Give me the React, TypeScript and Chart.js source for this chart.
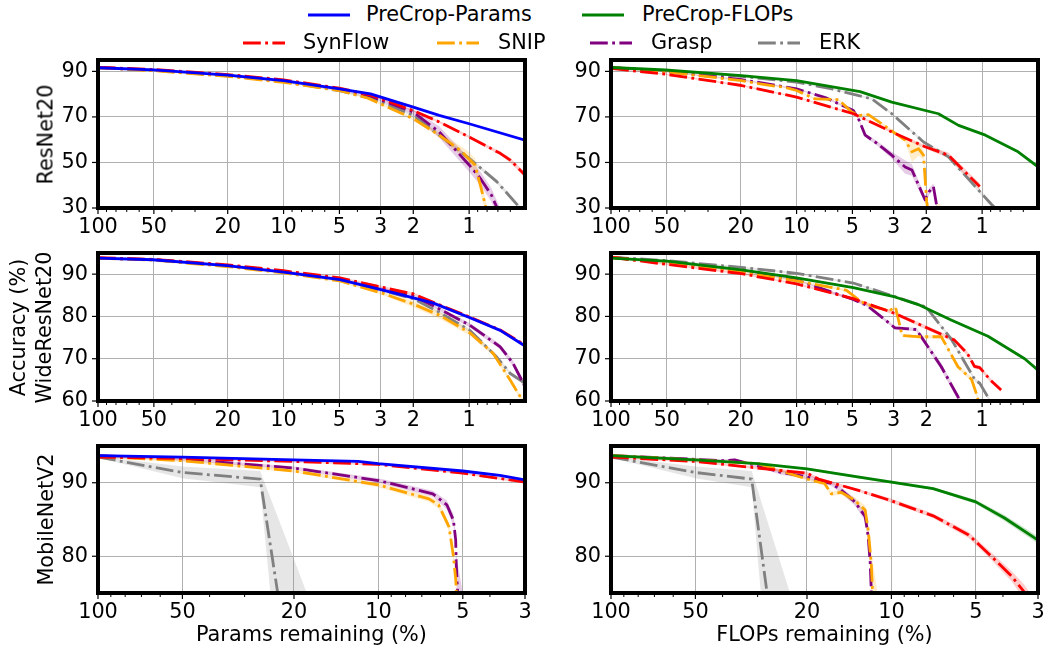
import React, { useEffect, useRef } from 'react';
import { Chart, registerables } from 'chart.js';

Chart.register(...registerables);

const FONT = "'DejaVu Sans', sans-serif";
const FS = 20.8;

// Each point: [remaining %, accuracy %, band half-width]
type P = [number, number, number];

// ---------- ResNet20 : Params remaining ----------
const r20ParamsPreCrop: P[] = [[100, 91.6, 0.2], [50, 90.7, 0.2], [20, 88.4, 0.2], [10, 85.9, 0.2], [5, 82.3, 0.2], [3.4, 80.1, 0.2], [2, 74.3, 0.3], [1.45, 70.7, 0.3], [1, 67, 0.3], [0.5, 59.8, 0.4]];
const r20ParamsSynFlow: P[] = [[100, 91.8, 0.3], [50, 90.8, 0.3], [20, 88.6, 0.3], [10, 86.3, 0.3], [5, 82.6, 0.3], [3.4, 79.7, 0.3], [2, 72.8, 0.4], [1.45, 67.8, 0.5], [1, 61.2, 0.6], [0.68, 54, 0.8], [0.6, 51, 1], [0.5, 44.5, 1.2]];
const r20ParamsSnip: P[] = [[100, 91.6, 0.3], [50, 90.3, 0.3], [20, 87.8, 0.3], [10, 85.2, 0.3], [5, 81.6, 0.3], [3.5, 78.2, 0.4], [2, 69.2, 0.6], [1.45, 62, 1], [1.1, 55, 2], [1.01, 51.8, 3], [0.93, 48.9, 3], [0.87, 40.1, 3], [0.8, 28, 3]];
const r20ParamsGrasp: P[] = [[100, 91.7, 0.3], [50, 90.5, 0.3], [20, 88.2, 0.3], [10, 85.6, 0.3], [5, 81.9, 0.3], [3.4, 79.2, 0.4], [2, 72.1, 1], [1.45, 63.4, 2.5], [1, 48.9, 3], [0.87, 43, 3], [0.76, 35.8, 3], [0.68, 27, 3]];
const r20ParamsErk: P[] = [[100, 91.6, 0.3], [50, 90.5, 0.3], [20, 88, 0.3], [10, 85.5, 0.3], [5, 81.5, 0.3], [3.3, 78, 0.4], [2, 70.7, 0.5], [1.45, 62, 0.6], [1, 51.8, 0.8], [0.71, 41.6, 0.8], [0.55, 31.4, 1], [0.5, 27.5, 1]];

// ---------- ResNet20 : FLOPs remaining ----------
const r20FlopsPreCrop: P[] = [[100, 91.7, 0.2], [51, 90.6, 0.2], [19.8, 88.1, 0.2], [10, 85.9, 0.2], [4.55, 81.1, 0.2], [3.07, 76.5, 0.3], [1.72, 71.4, 0.3], [1.34, 66.3, 0.3], [0.96, 62, 0.3], [0.64, 54.7, 0.4], [0.5, 48.1, 0.4]];
const r20FlopsSynFlow: P[] = [[100, 91.3, 0.3], [51.2, 88.8, 0.3], [19.8, 83.8, 0.3], [10, 78.7, 0.3], [4.94, 71.4, 0.4], [2.94, 62.7, 0.5], [2.03, 56.9, 0.8], [1.52, 53.2, 1.2], [1.03, 39.4, 1.5]];
const r20FlopsSnip: P[] = [[100, 91.7, 0.3], [51, 89.9, 0.3], [19.8, 85.9, 0.3], [13.1, 83.5, 0.3], [11.5, 83, 0.3], [10, 81.6, 0.3], [7.94, 77.9, 0.4], [5.95, 77.6, 0.4], [5.04, 72.1, 0.5], [4.6, 70.7, 0.5], [4.1, 71, 0.5], [2.6, 59.8, 0.8], [2.39, 54.7, 4.5], [2.2, 56, 3], [2.07, 53.2, 2], [1.99, 32.9, 2], [1.95, 28, 1], [1.7, 31, 1], [1.6, 27, 1]];
const r20FlopsGrasp: P[] = [[100, 91.7, 0.3], [51, 89.9, 0.3], [19.8, 86.4, 0.3], [10, 82.3, 0.3], [7, 78.5, 0.4], [4.94, 72.8, 0.5], [4.6, 68.5, 0.5], [4.27, 62, 0.8], [3.67, 58.3, 1], [3.07, 53.2, 1.5], [2.6, 48, 3], [2.39, 46.7, 2.5], [2.03, 33.6, 1.5], [1.93, 37.2, 1.5], [1.83, 39.4, 1.5], [1.74, 29, 1]];
const r20FlopsErk: P[] = [[100, 91.7, 0.3], [51, 90.3, 0.3], [19.8, 87.8, 0.3], [10, 85.3, 0.3], [6.46, 82.3, 0.3], [3.93, 77.9, 0.4], [3.07, 71.4, 0.5], [2.07, 59, 0.6], [1.52, 52.5, 0.8], [0.887, 31.4, 1], [0.8, 28, 1]];

// ---------- WideResNet20 : Params remaining ----------
const wrnParamsPreCrop: P[] = [[100, 93.8, 0.15], [50.7, 93.4, 0.15], [20.2, 92, 0.15], [10, 90.5, 0.15], [4.97, 88.7, 0.2], [2.95, 86.3, 0.2], [1.57, 83.2, 0.2], [0.99, 79.7, 0.3], [0.68, 76.7, 0.3], [0.5, 73, 0.3]];
const wrnParamsSynFlow: P[] = [[100, 93.9, 0.2], [50, 93.5, 0.2], [20, 92.2, 0.2], [10, 90.8, 0.2], [4.97, 89.1, 0.3], [2.95, 86.9, 0.3], [2.02, 85.4, 0.3], [1.57, 83.4, 0.3], [1, 79.9, 0.3], [0.68, 76.8, 0.3], [0.5, 73.2, 0.3]];
const wrnParamsSnip: P[] = [[100, 93.8, 0.2], [50, 93.3, 0.2], [20.2, 91.8, 0.2], [10, 90.3, 0.2], [4.97, 88.4, 0.3], [2.95, 85.5, 0.4], [2.02, 83, 0.7], [1.45, 80.3, 0.8], [0.99, 76.1, 0.6], [0.74, 71.2, 0.5], [0.6, 64.9, 0.5], [0.53, 61, 0.5], [0.5, 59.4, 0.5]];
const wrnParamsGrasp: P[] = [[100, 93.8, 0.2], [50, 93.4, 0.2], [20, 92, 0.2], [10, 90.6, 0.2], [5, 88.8, 0.2], [3, 86.6, 0.3], [2, 84.8, 0.3], [1.57, 82.6, 0.4], [0.99, 77.9, 0.5], [0.68, 72.8, 0.6], [0.58, 68.9, 0.7], [0.5, 63.4, 0.8]];
const wrnParamsErk: P[] = [[100, 93.8, 0.2], [50, 93.4, 0.2], [20, 92, 0.2], [10, 90.5, 0.2], [5, 88.6, 0.2], [3, 86.2, 0.3], [2, 84.2, 0.3], [1.45, 81, 0.3], [0.99, 76.7, 0.4], [0.71, 70.4, 0.4], [0.6, 66.5, 0.4], [0.5, 64.2, 0.4]];

// ---------- WideResNet20 : FLOPs remaining ----------
const wrnFlopsPreCrop: P[] = [[100, 93.8, 0.2], [50, 93.1, 0.2], [19.8, 91, 0.2], [10, 89.1, 0.2], [4.95, 86.8, 0.2], [2.95, 84.6, 0.2], [2.21, 82.8, 0.2], [1.46, 79.1, 0.3], [0.93, 75.3, 0.3], [0.59, 70, 0.3], [0.5, 67.3, 0.3]];
const wrnFlopsSynFlow: P[] = [[100, 94, 0.2], [50, 92.3, 0.2], [19.8, 90.1, 0.2], [10, 87.7, 0.2], [4.95, 84.2, 0.3], [2.95, 80.7, 0.4], [2.03, 77.5, 0.5], [1.41, 74.4, 0.5], [1.2, 71.2, 0.5], [1.1, 68.2, 0.5], [1.03, 67.9, 0.5], [0.9, 64.9, 0.5], [0.79, 62.6, 0.5]];
const wrnFlopsSnip: P[] = [[100, 94, 0.2], [50, 92.6, 0.2], [19.8, 90.5, 0.2], [10, 88.4, 0.2], [5.4, 86.2, 0.3], [4.45, 83.4, 0.3], [3.8, 82.2, 0.3], [3.15, 81.4, 0.3], [2.93, 82.2, 0.3], [2.7, 75.5, 0.3], [2.22, 75.2, 0.3], [1.66, 75.2, 0.4], [1.35, 68.1, 0.5], [1.14, 65.1, 0.5], [1.06, 61, 0.5], [1.03, 58, 0.5]];
const wrnFlopsGrasp: P[] = [[100, 94, 0.2], [50, 92.8, 0.2], [19.8, 90.8, 0.2], [10, 88.6, 0.2], [4.95, 84, 0.3], [4.17, 82.6, 0.3], [2.95, 77.3, 0.4], [2.26, 76.9, 0.4], [2.07, 74.4, 0.5], [1.66, 68.1, 0.8], [1.35, 61, 0.8], [1.28, 59, 0.8]];
const wrnFlopsErk: P[] = [[100, 94, 0.2], [50, 93.2, 0.2], [19.8, 91.6, 0.2], [10, 90.2, 0.2], [4.95, 87.9, 0.2], [3.1, 85, 0.3], [2, 82.2, 0.3], [1.46, 74.5, 0.4], [1.09, 64.9, 0.4], [1.03, 64.2, 0.4], [0.91, 60.2, 0.4], [0.88, 58, 0.4]];

// ---------- MobileNetV2 : Params remaining ----------
const mbParamsPreCrop: P[] = [[100, 93.7, 0.1], [50, 93.5, 0.1], [20, 93.1, 0.1], [11.8, 92.9, 0.1], [10, 92.6, 0.1], [5, 91.6, 0.1], [3.69, 91, 0.15], [3, 90.4, 0.15]];
const mbParamsSynFlow: P[] = [[100, 93.5, 0.15], [50, 93.3, 0.15], [20, 92.9, 0.15], [10, 92.5, 0.15], [5, 91.3, 0.15], [3, 90.1, 0.2]];
const mbParamsSnip: P[] = [[100, 93.6, 0.2], [50, 93, 0.2], [20, 91.6, 0.2], [10, 89.7, 0.3], [6.6, 87.8, 0.4], [6.1, 87, 0.5], [5.6, 84, 0.6], [5.4, 80, 0.6], [5.3, 76.9, 0.6], [5.25, 74, 0.6]];
const mbParamsGrasp: P[] = [[100, 93.7, 0.2], [50, 93.2, 0.2], [20, 92, 0.2], [10, 90.3, 0.3], [6.4, 88.5, 0.4], [5.7, 87, 0.6], [5.4, 84.9, 0.8], [5.3, 82.2, 0.8], [5.28, 79.3, 1], [5.0, 60, 15]];
const mbParamsErk: P[] = [[100, 93.5, 0.1], [50, 91.4, 0.8], [26.4, 90.5, 1.1], [18, 49.3, 25.7]];

// ---------- MobileNetV2 : FLOPs remaining ----------
const mbFlopsPreCrop: P[] = [[100, 93.7, 0.1], [50, 93.1, 0.1], [29.9, 92.6, 0.1], [20, 91.9, 0.15], [13.2, 90.8, 0.2], [10, 90.1, 0.2], [7.1, 89.2, 0.2], [5, 87.4, 0.3], [3.95, 85.2, 0.4], [3, 82.2, 0.5]];
const mbFlopsSynFlow: P[] = [[100, 93.5, 0.15], [50, 92.9, 0.15], [20, 91.3, 0.2], [18.2, 90.5, 0.2], [13.2, 89, 0.2], [10.1, 87.6, 0.3], [7.1, 85.5, 0.3], [5.3, 82.9, 0.4], [4.4, 80, 0.5], [3.73, 77.3, 0.7], [3.35, 75.1, 1], [3.1, 73, 1.2]];
const mbFlopsSnip: P[] = [[100, 93.7, 0.2], [50, 93.1, 0.2], [29.9, 92.6, 0.2], [20, 90.5, 0.2], [17.3, 89.9, 0.3], [16.4, 88.5, 0.3], [15.1, 88.7, 0.3], [13.5, 87.6, 0.4], [12.4, 86.3, 0.6], [12.1, 83.6, 1], [11.8, 79.1, 1.5], [11.2, 60, 15]];
const mbFlopsGrasp: P[] = [[100, 93.7, 0.2], [39.2, 93, 0.2], [36.2, 93.1, 0.2], [30, 92.3, 0.2], [24.7, 91.4, 0.3], [20, 90.8, 0.3], [18.2, 90.3, 0.3], [16.4, 89.9, 0.3], [15.1, 89, 0.4], [13.5, 87.4, 0.5], [12.4, 85.4, 0.6], [12.1, 82.7, 0.8], [11.9, 79.1, 1], [11.8, 75.5, 1], [11.7, 70, 2]];
const mbFlopsErk: P[] = [[100, 93.5, 0.1], [50, 91.4, 0.8], [31.5, 90.5, 1.1], [23, 52, 23]];

// ---------- ticks ----------
const X_TICKS_TOP = [100, 50, 20, 10, 5, 3, 2, 1];
const X_MINOR_TOP = [90, 80, 70, 60, 40, 30, 9, 8, 7, 6, 4, 0.9, 0.8, 0.7, 0.6];
const X_TICKS_BOTTOM = [100, 50, 20, 10, 5, 3];
const X_MINOR_BOTTOM = [90, 80, 70, 60, 40, 30, 9, 8, 7, 6, 4];
const Y_TICKS_R20 = [30, 50, 70, 90];
const Y_TICKS_WRN = [60, 70, 80, 90];
const Y_TICKS_MB = [80, 90];

const LEGEND_TOP = ['PreCrop-Params', 'PreCrop-FLOPs'];
const LEGEND_BOTTOM = ['SynFlow', 'SNIP', 'Grasp', 'ERK'];
const ROW_LABELS = ['ResNet20', 'WideResNet20', 'MobileNetV2'];

const C = {
  params: '#0000ff',
  flops: '#008000',
  synflow: '#ff0000',
  snip: '#ffa500',
  grasp: '#800080',
  erk: '#808080',
};

const DASH = [17.8, 4.4, 2.8, 4.4];
const LW = 2.8;

const PAD_L = 70;
const PAD_T = 8;
const PAD_R = 7;
const PAD_B = 42;

const COLS = [{ L: 98, R: 525 }, { L: 611, R: 1038 }];
const ROWS = [{ T: 60, B: 208 }, { T: 253, B: 401 }, { T: 446, B: 593 }];

type Series = { pts: P[]; color: string; dashed: boolean };
type PanelCfg = {
  col: number; row: number;
  xMin: number; xMax: number; yMin: number; yMax: number;
  xTicks: number[]; xMinor: number[]; yTicks: number[];
  series: Series[];
};

const mk = (pre: P[], preColor: string, sf: P[], sn: P[], gr: P[], erk: P[]): Series[] => [
  { pts: pre, color: preColor, dashed: false },
  { pts: sf, color: C.synflow, dashed: true },
  { pts: sn, color: C.snip, dashed: true },
  { pts: gr, color: C.grasp, dashed: true },
  { pts: erk, color: C.erk, dashed: true },
];

const PANELS: PanelCfg[] = [
  { col: 0, row: 0, xMin: 0.5, xMax: 100, yMin: 30, yMax: 95, xTicks: X_TICKS_TOP, xMinor: X_MINOR_TOP, yTicks: Y_TICKS_R20,
    series: mk(r20ParamsPreCrop, C.params, r20ParamsSynFlow, r20ParamsSnip, r20ParamsGrasp, r20ParamsErk) },
  { col: 1, row: 0, xMin: 0.5, xMax: 100, yMin: 30, yMax: 95, xTicks: X_TICKS_TOP, xMinor: X_MINOR_TOP, yTicks: Y_TICKS_R20,
    series: mk(r20FlopsPreCrop, C.flops, r20FlopsSynFlow, r20FlopsSnip, r20FlopsGrasp, r20FlopsErk) },
  { col: 0, row: 1, xMin: 0.5, xMax: 100, yMin: 60, yMax: 95, xTicks: X_TICKS_TOP, xMinor: X_MINOR_TOP, yTicks: Y_TICKS_WRN,
    series: mk(wrnParamsPreCrop, C.params, wrnParamsSynFlow, wrnParamsSnip, wrnParamsGrasp, wrnParamsErk) },
  { col: 1, row: 1, xMin: 0.5, xMax: 100, yMin: 60, yMax: 95, xTicks: X_TICKS_TOP, xMinor: X_MINOR_TOP, yTicks: Y_TICKS_WRN,
    series: mk(wrnFlopsPreCrop, C.flops, wrnFlopsSynFlow, wrnFlopsSnip, wrnFlopsGrasp, wrnFlopsErk) },
  { col: 0, row: 2, xMin: 3, xMax: 100, yMin: 75, yMax: 95, xTicks: X_TICKS_BOTTOM, xMinor: X_MINOR_BOTTOM, yTicks: Y_TICKS_MB,
    series: mk(mbParamsPreCrop, C.params, mbParamsSynFlow, mbParamsSnip, mbParamsGrasp, mbParamsErk) },
  { col: 1, row: 2, xMin: 3, xMax: 100, yMin: 75, yMax: 95, xTicks: X_TICKS_BOTTOM, xMinor: X_MINOR_BOTTOM, yTicks: Y_TICKS_MB,
    series: mk(mbFlopsPreCrop, C.flops, mbFlopsSynFlow, mbFlopsSnip, mbFlopsGrasp, mbFlopsErk) },
];

function rgba(hex: string, a: number) {
  const n = parseInt(hex.slice(1), 16);
  return `rgba(${(n >> 16) & 255},${(n >> 8) & 255},${n & 255},${a})`;
}

const framePlugin = {
  id: 'frame',
  afterDraw(chart: any, _args: any, opts: any) {
    const { ctx, chartArea: a, scales } = chart;
    const xs = scales.x;
    const ys = scales.y;
    ctx.save();
    ctx.strokeStyle = '#000';
    ctx.lineCap = 'butt';
    ctx.lineWidth = 1;
    for (const v of opts.xMinor as number[]) {
      const px = xs.getPixelForValue(v);
      ctx.beginPath(); ctx.moveTo(px, a.bottom); ctx.lineTo(px, a.bottom + 4); ctx.stroke();
    }
    ctx.lineWidth = 1.2;
    for (const v of opts.xTicks as number[]) {
      const px = xs.getPixelForValue(v);
      ctx.beginPath(); ctx.moveTo(px, a.bottom); ctx.lineTo(px, a.bottom + 6); ctx.stroke();
    }
    for (const v of opts.yTicks as number[]) {
      const py = ys.getPixelForValue(v);
      ctx.beginPath(); ctx.moveTo(a.left, py); ctx.lineTo(a.left - 6, py); ctx.stroke();
    }
    ctx.lineWidth = 4;
    ctx.strokeRect(a.left, a.top, a.right - a.left, a.bottom - a.top);
    ctx.restore();
  },
};

function Panel({ cfg }: { cfg: PanelCfg }) {
  const ref = useRef<HTMLCanvasElement>(null);
  const col = COLS[cfg.col];
  const row = ROWS[cfg.row];
  const W = col.R - col.L + PAD_L + PAD_R;
  const H = row.B - row.T + PAD_T + PAD_B;

  useEffect(() => {
    if (!ref.current) return;
    const lines = cfg.series.map((s) => ({
      data: s.pts.map((p) => ({ x: p[0], y: p[1] })),
      borderColor: s.color,
      backgroundColor: s.color,
      borderWidth: LW,
      borderDash: s.dashed ? DASH : [],
      borderJoinStyle: 'round',
      pointRadius: 0,
      fill: false,
      tension: 0,
      order: 0,
    }));
    const bands = cfg.series.flatMap((s) => [
      {
        data: s.pts.map((p) => ({ x: p[0], y: p[1] + p[2] })),
        borderColor: 'rgba(0,0,0,0)',
        backgroundColor: 'rgba(0,0,0,0)',
        borderWidth: 0.01,
        pointRadius: 0,
        fill: false,
        tension: 0,
        order: 1,
      },
      {
        data: s.pts.map((p) => ({ x: p[0], y: p[1] - p[2] })),
        borderColor: 'rgba(0,0,0,0)',
        backgroundColor: rgba(s.color, 0.2),
        borderWidth: 0.01,
        pointRadius: 0,
        fill: '-1',
        tension: 0,
        order: 1,
      },
    ]);
    const font = { family: FONT, size: FS };
    const chart = new Chart(ref.current, {
      type: 'line',
      data: { datasets: [...lines, ...bands] as any },
      plugins: [framePlugin as any],
      options: {
        responsive: false,
        animation: false,
        events: [],
        layout: { padding: { left: 0, top: PAD_T, right: PAD_R, bottom: 0 } },
        plugins: {
          legend: { display: false },
          tooltip: { enabled: false },
          frame: { xTicks: cfg.xTicks, xMinor: cfg.xMinor, yTicks: cfg.yTicks },
        } as any,
        scales: {
          x: {
            type: 'logarithmic',
            reverse: true,
            min: cfg.xMin,
            max: cfg.xMax,
            bounds: 'data',
            afterBuildTicks: (s: any) => { s.ticks = cfg.xTicks.map((v) => ({ value: v })); },
            afterFit: (s: any) => { s.height = PAD_B; s.paddingLeft = 0; s.paddingRight = 0; },
            grid: { color: '#b0b0b0', lineWidth: 1, drawTicks: false },
            border: { display: false },
            ticks: { autoSkip: false, maxRotation: 0, minRotation: 0, padding: 7, color: '#000', font, callback: (v: any) => String(v) },
          },
          y: {
            type: 'linear',
            min: cfg.yMin,
            max: cfg.yMax,
            bounds: 'data',
            afterBuildTicks: (s: any) => { s.ticks = cfg.yTicks.map((v) => ({ value: v })); },
            afterFit: (s: any) => { s.width = PAD_L; s.paddingTop = 0; s.paddingBottom = 0; },
            grid: { color: '#b0b0b0', lineWidth: 1, drawTicks: false },
            border: { display: false },
            ticks: { autoSkip: false, padding: 10, color: '#000', font, callback: (v: any) => String(v) },
          },
        } as any,
      },
    });
    return () => chart.destroy();
  }, []);

  return (
    <canvas
      ref={ref}
      width={W}
      height={H}
      style={{ position: 'absolute', left: col.L - PAD_L, top: row.T - PAD_T, width: W, height: H }}
    />
  );
}

const textBase: React.CSSProperties = {
  position: 'absolute',
  fontFamily: FONT,
  fontSize: FS,
  lineHeight: '25px',
  height: 25,
  whiteSpace: 'nowrap',
  color: '#000',
};

function LegendItem({ x, y, color, dashed, label, textX }: { x: number; y: number; color: string; dashed: boolean; label: string; textX: number }) {
  return (
    <>
      <svg style={{ position: 'absolute', left: x, top: y - 4 }} width={42} height={8}>
        <line x1={0} y1={4} x2={42} y2={4} stroke={color} strokeWidth={LW} strokeDasharray={dashed ? DASH.join(' ') : undefined} />
      </svg>
      <div style={{ ...textBase, left: textX, top: y - 12.5 }}>{label}</div>
    </>
  );
}

function RotLabel({ text, cx, cy }: { text: string; cx: number; cy: number }) {
  return (
    <div style={{ ...textBase, left: cx - 150, top: cy - 12.5, width: 300, textAlign: 'center', transform: 'rotate(-90deg)' }}>
      {text}
    </div>
  );
}

export default function App() {
  useEffect(() => {
    Chart.defaults.font.family = FONT;
  }, []);
  return (
    <div style={{ position: 'absolute', left: 0, top: 0, width: 1045, height: 649, overflow: 'hidden', background: '#fff' }}>
      {PANELS.map((p, i) => <Panel key={i} cfg={p} />)}
      <LegendItem x={308} y={14.5} color={C.params} dashed={false} label={LEGEND_TOP[0]} textX={366} />
      <LegendItem x={582} y={14.5} color={C.flops} dashed={false} label={LEGEND_TOP[1]} textX={642} />
      <LegendItem x={243} y={42.5} color={C.synflow} dashed={true} label={LEGEND_BOTTOM[0]} textX={303} />
      <LegendItem x={437} y={42.5} color={C.snip} dashed={true} label={LEGEND_BOTTOM[1]} textX={498} />
      <LegendItem x={590} y={42.5} color={C.grasp} dashed={true} label={LEGEND_BOTTOM[2]} textX={651} />
      <LegendItem x={758} y={42.5} color={C.erk} dashed={true} label={LEGEND_BOTTOM[3]} textX={819} />
      <RotLabel text={ROW_LABELS[0]} cx={45.5} cy={134} />
      <RotLabel text="Accuracy (%)" cx={18} cy={327} />
      <RotLabel text={ROW_LABELS[1]} cx={44} cy={327} />
      <RotLabel text={ROW_LABELS[2]} cx={45.5} cy={519.5} />
      <div style={{ ...textBase, left: 311.5 - 200, width: 400, textAlign: 'center', top: 622 }}>Params remaining (%)</div>
      <div style={{ ...textBase, left: 824.5 - 200, width: 400, textAlign: 'center', top: 622 }}>FLOPs remaining (%)</div>
    </div>
  );
}
